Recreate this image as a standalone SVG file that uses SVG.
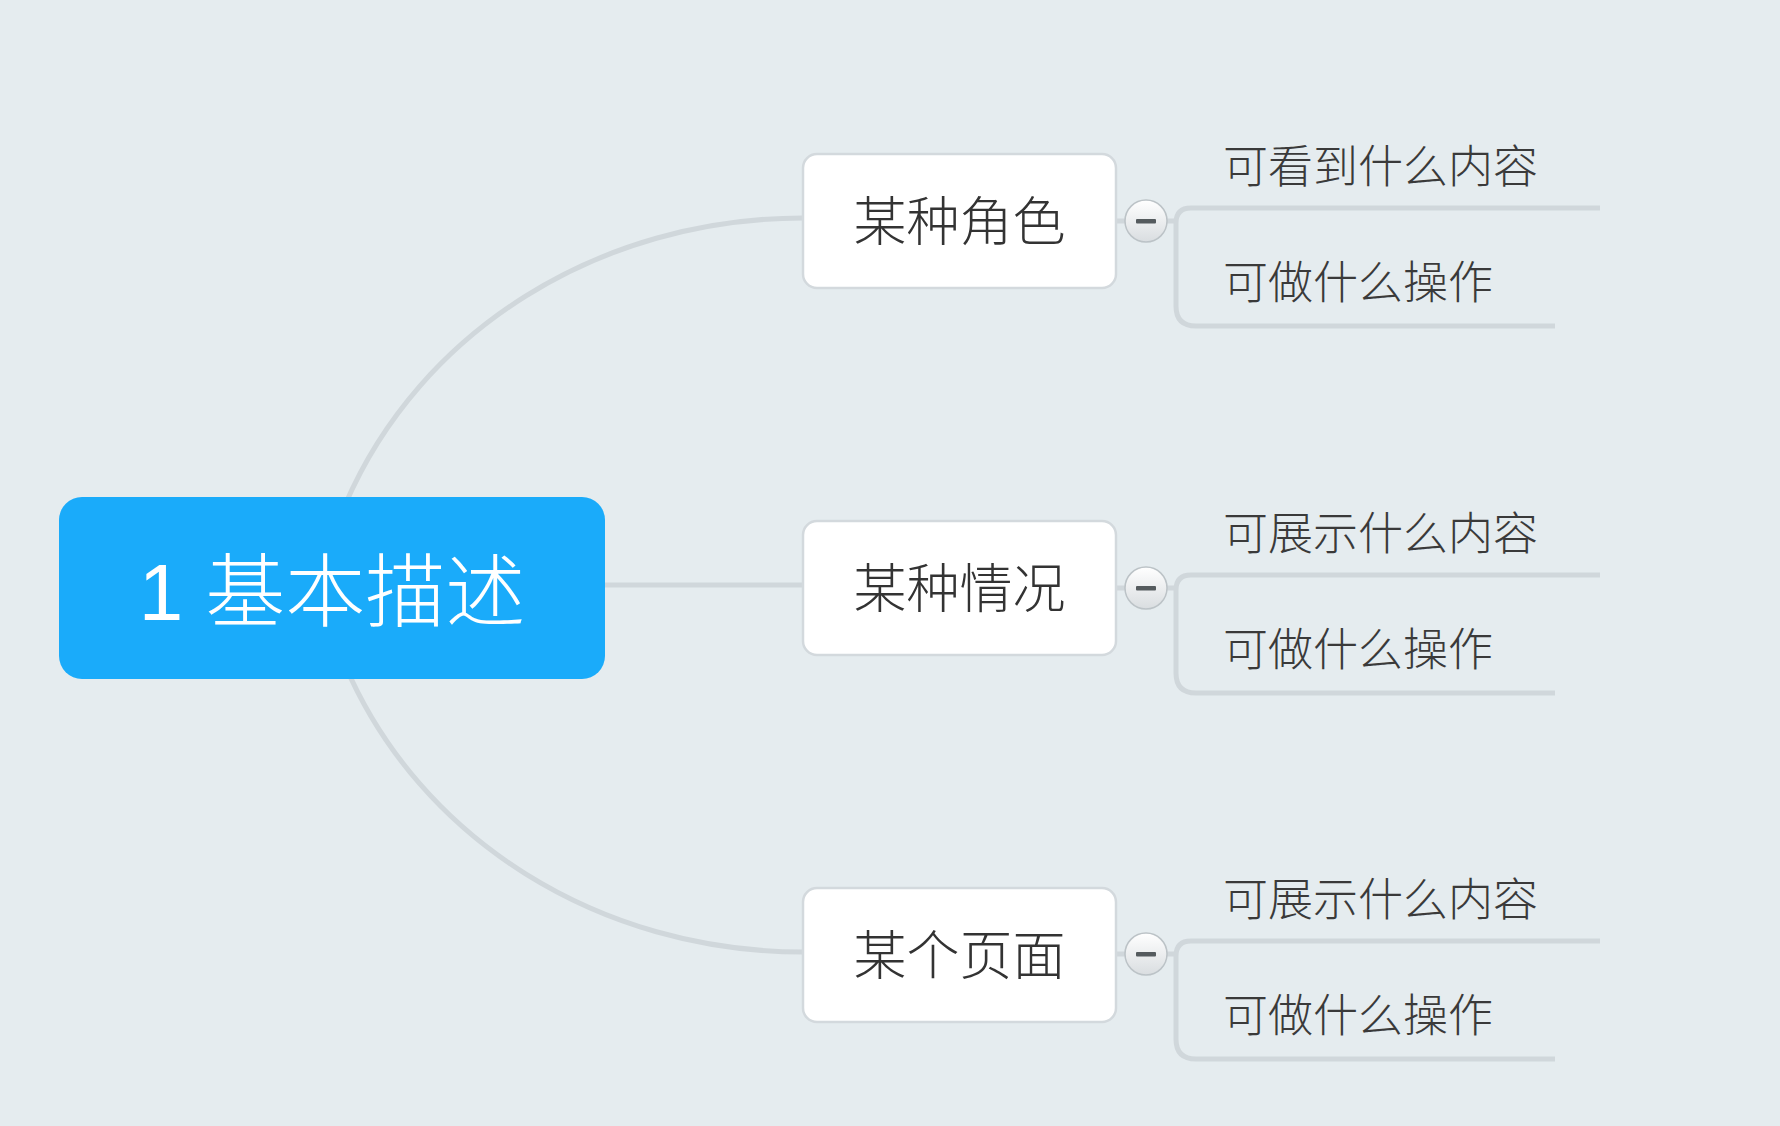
<svg xmlns="http://www.w3.org/2000/svg" width="1780" height="1126" viewBox="0 0 1780 1126">
<defs>
<linearGradient id="cg" x1="0" y1="0" x2="0" y2="1">
<stop offset="0" stop-color="#ffffff"/>
<stop offset="1" stop-color="#d9dde0"/>
</linearGradient>
<style>
.conn{fill:none;stroke:#d0d7db;stroke-width:5;stroke-linecap:butt}
.br{fill:none;stroke:#d0d7db;stroke-width:5}
.box{fill:#ffffff;stroke:#d3d9dd;stroke-width:2.5}
.bt{font-family:"Liberation Sans","Noto Sans CJK SC",sans-serif;font-size:53px;font-weight:300;fill:#333333;text-anchor:middle}
.ct{font-family:"Liberation Sans","Noto Sans CJK SC",sans-serif;font-size:45px;font-weight:300;fill:#3a3a3a}
.col{fill:url(#cg);stroke:#bcc3c7;stroke-width:1.5}
.minus{fill:#555b5e}
</style>
</defs>
<rect x="0" y="0" width="1780" height="1126" fill="#e5ecef"/>
<g id="connectors">
<path class="conn" d="M345,505 C420,330 600,218 803,218"/>
<path class="conn" d="M605,585 H803"/>
<path class="conn" d="M345,665 C420,840 600,952 803,952"/>
<path class="conn" d="M1116,221 H1126"/>
<path class="conn" d="M1116,588 H1126"/>
<path class="conn" d="M1116,954 H1126"/>
<path class="br" d="M1167,221 H1176"/>
<path class="br" d="M1600,208 H1191 Q1176,208 1176,223 V306 Q1176,326 1196,326 H1555"/>
<path class="br" d="M1167,588 H1176"/>
<path class="br" d="M1600,575 H1191 Q1176,575 1176,590 V673 Q1176,693 1196,693 H1555"/>
<path class="br" d="M1167,954 H1176"/>
<path class="br" d="M1600,941 H1191 Q1176,941 1176,956 V1039 Q1176,1059 1196,1059 H1555"/>
</g>
<g id="root">
<rect x="59" y="497" width="546" height="182" rx="23" ry="23" fill="#1aabfa"/>
<text x="332" y="620" font-family="Liberation Sans,'Noto Sans CJK SC',sans-serif" font-size="80" font-weight="300" fill="#ffffff" text-anchor="middle">1 基本描述</text>
</g>
<g id="n1">
<rect class="box" x="803" y="154" width="313" height="134" rx="14" ry="14"/>
<text class="bt" x="959.5" y="241">某种角色</text>
</g>
<g id="n1c">
<circle class="col" cx="1146" cy="221" r="21"/>
<rect class="minus" x="1136" y="219" width="20" height="4.5" rx="1"/>
</g>
<g id="n1a"><text class="ct" x="1223" y="183">可看到什么内容</text></g>
<g id="n1b"><text class="ct" x="1223" y="299">可做什么操作</text></g>
<g id="n2">
<rect class="box" x="803" y="521" width="313" height="134" rx="14" ry="14"/>
<text class="bt" x="959.5" y="608">某种情况</text>
</g>
<g id="n2c">
<circle class="col" cx="1146" cy="588" r="21"/>
<rect class="minus" x="1136" y="586" width="20" height="4.5" rx="1"/>
</g>
<g id="n2a"><text class="ct" x="1223" y="550">可展示什么内容</text></g>
<g id="n2b"><text class="ct" x="1223" y="666">可做什么操作</text></g>
<g id="n3">
<rect class="box" x="803" y="888" width="313" height="134" rx="14" ry="14"/>
<text class="bt" x="959.5" y="975">某个页面</text>
</g>
<g id="n3c">
<circle class="col" cx="1146" cy="954" r="21"/>
<rect class="minus" x="1136" y="952" width="20" height="4.5" rx="1"/>
</g>
<g id="n3a"><text class="ct" x="1223" y="916">可展示什么内容</text></g>
<g id="n3b"><text class="ct" x="1223" y="1032">可做什么操作</text></g>
</svg>
